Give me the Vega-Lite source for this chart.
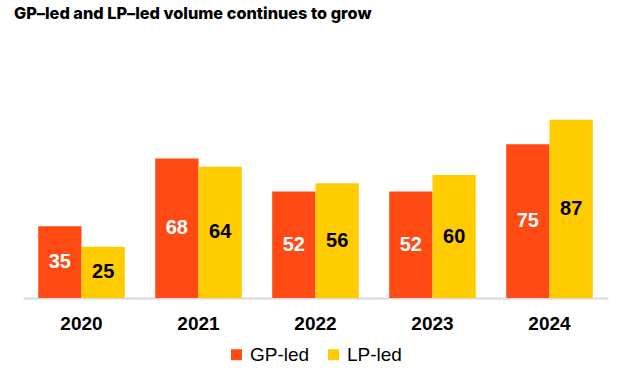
{
  "$schema": "https://vega.github.io/schema/vega-lite/v6.json",
  "autosize": {"type": "none"},
  "width": 585,
  "height": 205,
  "padding": {"left": 23, "top": 93, "right": 13, "bottom": 73},
  "background": "white",
  "title": {
    "text": "GP\u2013led and LP\u2013led volume continues to grow",
    "anchor": "start",
    "font": "Inter",
    "fontSize": 16.3,
    "fontWeight": 800,
    "color": "#000000",
    "dx": -9,
    "offset": 58,
    "baseline": "alphabetic"
  },
  "data": {
    "values": [
      {"year": "2020", "series": "GP-led", "value": 35},
      {"year": "2020", "series": "LP-led", "value": 25},
      {"year": "2021", "series": "GP-led", "value": 68},
      {"year": "2021", "series": "LP-led", "value": 64},
      {"year": "2022", "series": "GP-led", "value": 52},
      {"year": "2022", "series": "LP-led", "value": 56},
      {"year": "2023", "series": "GP-led", "value": 52},
      {"year": "2023", "series": "LP-led", "value": 60},
      {"year": "2024", "series": "GP-led", "value": 75},
      {"year": "2024", "series": "LP-led", "value": 87}
    ]
  },
  "encoding": {
    "x": {
      "field": "year",
      "type": "nominal",
      "scale": {"paddingInner": 0.26, "paddingOuter": 0.13},
      "axis": {
        "title": null,
        "labelAngle": 0,
        "labelFont": "Liberation Sans",
        "labelFontSize": 19,
        "labelFontWeight": "bold",
        "labelColor": "#000000",
        "labelPadding": 16,
        "ticks": false,
        "domainColor": "#d9d9d9",
        "domainWidth": 2
      }
    },
    "xOffset": {"field": "series", "type": "nominal", "scale": {"paddingInner": 0, "paddingOuter": 0}}
  },
  "layer": [
    {
      "mark": {"type": "bar"},
      "encoding": {
        "y": {
          "field": "value",
          "type": "quantitative",
          "scale": {"domain": [0, 100], "nice": false},
          "axis": null
        },
        "color": {
          "field": "series",
          "type": "nominal",
          "scale": {"domain": ["GP-led", "LP-led"], "range": ["#ff4a14", "#ffcc00"]},
          "legend": {
            "title": null,
            "orient": "none",
            "legendX": 204,
            "legendY": 252,
            "direction": "horizontal",
            "symbolType": "square",
            "symbolSize": 121,
            "symbolStrokeWidth": 0,
            "labelFont": "Liberation Sans",
            "labelFontSize": 19,
            "labelColor": "#000000",
            "columnPadding": 14,
            "labelOffset": 4
          }
        }
      }
    },
    {
      "transform": [{"calculate": "datum.value / 2", "as": "mid"}],
      "mark": {
        "type": "text",
        "font": "Liberation Sans",
        "fontSize": 20,
        "fontWeight": "bold",
        "baseline": "middle"
      },
      "encoding": {
        "y": {"field": "mid", "type": "quantitative"},
        "text": {"field": "value", "type": "quantitative"},
        "color": {
          "condition": {"test": "datum.series === 'GP-led'", "value": "#ffffff"},
          "value": "#000000"
        }
      }
    }
  ],
  "config": {
    "view": {"stroke": null},
    "axis": {"grid": false}
  }
}
